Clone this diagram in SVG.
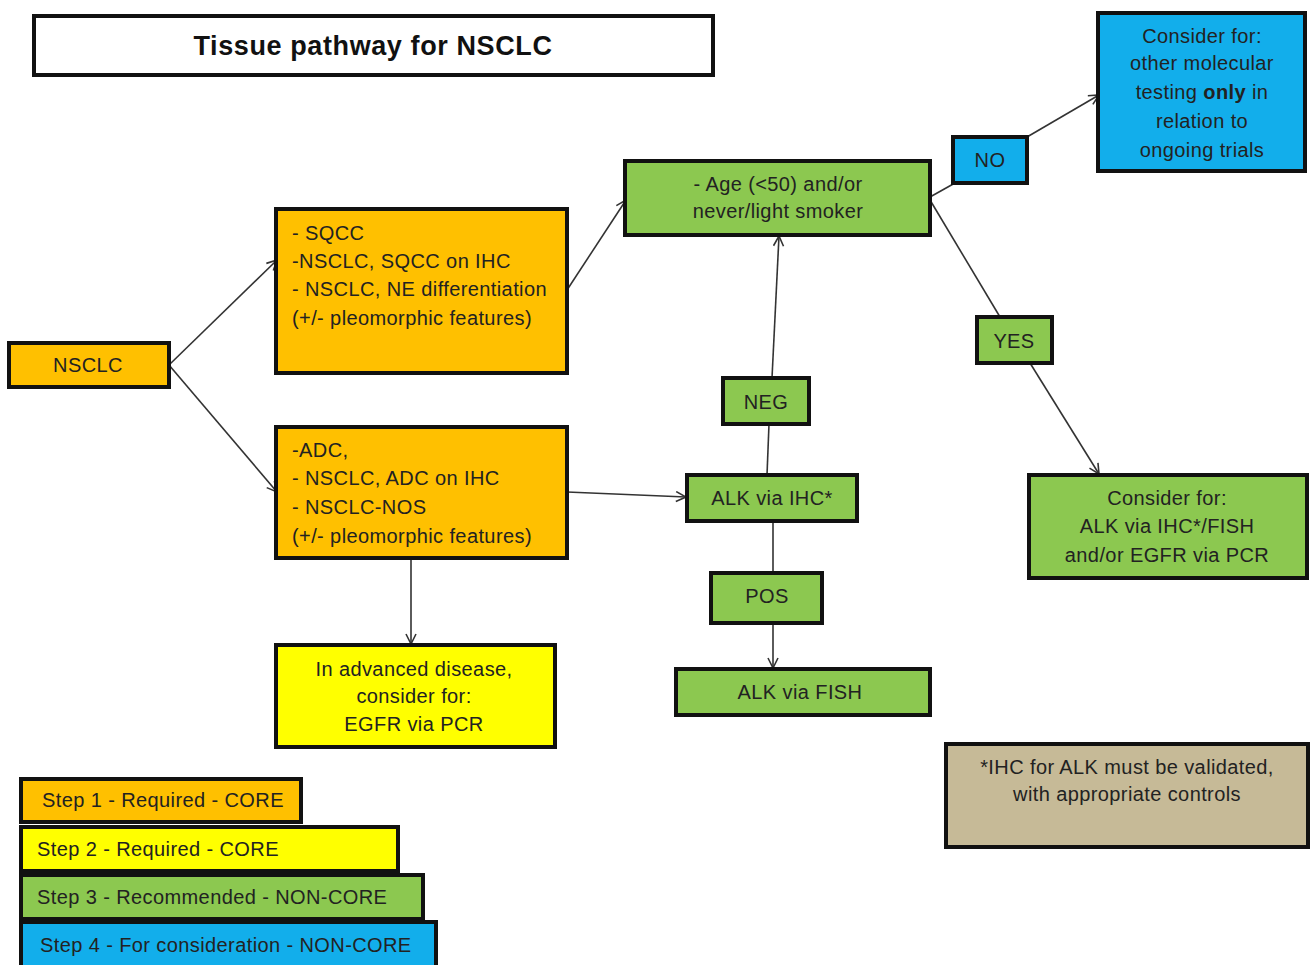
<svg xmlns="http://www.w3.org/2000/svg" width="1312" height="965" viewBox="0 0 1312 965">
<style>
.box{stroke:#111;stroke-width:4}
.or{fill:#FFC000}.gr{fill:#8CC850}.bl{fill:#12AEEB}.ye{fill:#FFFF00}.tan{fill:#C6BA97}
text{font-family:"Liberation Sans",Arial,sans-serif;font-size:20px;letter-spacing:0.4px;fill:#222}
.c{text-anchor:middle}
.conn line{stroke:#333;stroke-width:1.6;fill:none}
</style>
<defs>
<marker id="arr" viewBox="0 0 12 12" refX="11" refY="6" markerWidth="12" markerHeight="12" markerUnits="userSpaceOnUse" orient="auto">
<path d="M1,1 L11,6 L1,11" fill="none" stroke="#333" stroke-width="1.6"/>
</marker>
</defs>
<rect width="1312" height="965" fill="#fff"/>
<g class="conn">
<line x1="169" y1="365" x2="277" y2="260" marker-end="url(#arr)"/>
<line x1="169" y1="365" x2="277" y2="492" marker-end="url(#arr)"/>
<line x1="567" y1="290" x2="626" y2="200" marker-end="url(#arr)"/>
<line x1="930" y1="197" x2="955" y2="183"/>
<line x1="1027" y1="137" x2="1099" y2="95" marker-end="url(#arr)"/>
<line x1="930" y1="200" x2="1000" y2="317"/>
<line x1="1030" y1="363" x2="1099" y2="474" marker-end="url(#arr)"/>
<line x1="567" y1="492" x2="686" y2="497" marker-end="url(#arr)"/>
<line x1="767" y1="475" x2="769" y2="424"/>
<line x1="772" y1="378" x2="779" y2="236" marker-end="url(#arr)"/>
<line x1="773" y1="521" x2="773" y2="573"/>
<line x1="773" y1="623" x2="773" y2="668" marker-end="url(#arr)"/>
<line x1="411" y1="558" x2="411" y2="644" marker-end="url(#arr)"/>
</g>
<g id="title"><rect class="box" x="34" y="16" width="679" height="59" fill="#fff"/><text class="c" x="373" y="55" style="font-size:27px;font-weight:bold;letter-spacing:0.6px;fill:#111">Tissue pathway for NSCLC</text></g>
<g id="nsclc"><rect class="box or" x="9" y="343" width="160" height="44"/><text class="c" x="88" y="372">NSCLC</text></g>
<g id="sqcc"><rect class="box or" x="276" y="209" width="291" height="164"/>
<text x="292" y="240">- SQCC</text><text x="292" y="268">-NSCLC, SQCC on IHC</text><text x="292" y="296">- NSCLC, NE differentiation</text><text x="292" y="325">(+/- pleomorphic features)</text></g>
<g id="adc"><rect class="box or" x="276" y="427" width="291" height="131"/>
<text x="292" y="457">-ADC,</text><text x="292" y="485">- NSCLC, ADC on IHC</text><text x="292" y="514">- NSCLC-NOS</text><text x="292" y="543">(+/- pleomorphic features)</text></g>
<g id="age"><rect class="box gr" x="625" y="161" width="305" height="74"/>
<text class="c" x="778" y="191">- Age (&lt;50) and/or</text><text class="c" x="778" y="218">never/light smoker</text></g>
<g id="no"><rect class="box bl" x="953" y="137" width="74" height="46"/><text class="c" x="990" y="167">NO</text></g>
<g id="other"><rect class="box bl" x="1098" y="13" width="207" height="158"/>
<text class="c" x="1202" y="43">Consider for:</text><text class="c" x="1202" y="70">other molecular</text><text class="c" x="1202" y="99">testing <tspan font-weight="bold">only</tspan> in</text><text class="c" x="1202" y="128">relation to</text><text class="c" x="1202" y="157">ongoing trials</text></g>
<g id="yes"><rect class="box gr" x="977" y="317" width="75" height="46"/><text class="c" x="1014" y="348">YES</text></g>
<g id="neg"><rect class="box gr" x="723" y="378" width="86" height="46"/><text class="c" x="766" y="409">NEG</text></g>
<g id="alkihc"><rect class="box gr" x="687" y="475" width="170" height="46"/><text class="c" x="772" y="505">ALK via IHC*</text></g>
<g id="pos"><rect class="box gr" x="711" y="573" width="111" height="50"/><text class="c" x="767" y="603">POS</text></g>
<g id="alkfish"><rect class="box gr" x="676" y="669" width="254" height="46"/><text class="c" x="800" y="699">ALK via FISH</text></g>
<g id="consider"><rect class="box gr" x="1029" y="475" width="278" height="103"/>
<text class="c" x="1167" y="505">Consider for:</text><text class="c" x="1167" y="533">ALK via IHC*/FISH</text><text class="c" x="1167" y="562">and/or EGFR via PCR</text></g>
<g id="egfr"><rect class="box ye" x="276" y="645" width="279" height="102"/>
<text class="c" x="414" y="676">In advanced disease,</text><text class="c" x="414" y="703">consider for:</text><text class="c" x="414" y="731">EGFR via PCR</text></g>
<g id="note"><rect class="box tan" x="946" y="744" width="362" height="103"/>
<text class="c" x="1127" y="774">*IHC for ALK must be validated,</text><text class="c" x="1127" y="801">with appropriate controls</text></g>
<g id="legend1"><rect class="box or" x="21" y="779" width="280" height="43"/><text x="42" y="807">Step 1 - Required - CORE</text></g>
<g id="legend2"><rect class="box ye" x="21" y="827" width="377" height="44"/><text x="37" y="856">Step 2 - Required - CORE</text></g>
<g id="legend3"><rect class="box gr" x="21" y="875" width="402" height="44"/><text x="37" y="904">Step 3 - Recommended  - NON-CORE</text></g>
<g id="legend4"><rect class="box bl" x="21" y="922" width="415" height="48"/><text x="40" y="952">Step 4 - For consideration - NON-CORE</text></g>
</svg>
